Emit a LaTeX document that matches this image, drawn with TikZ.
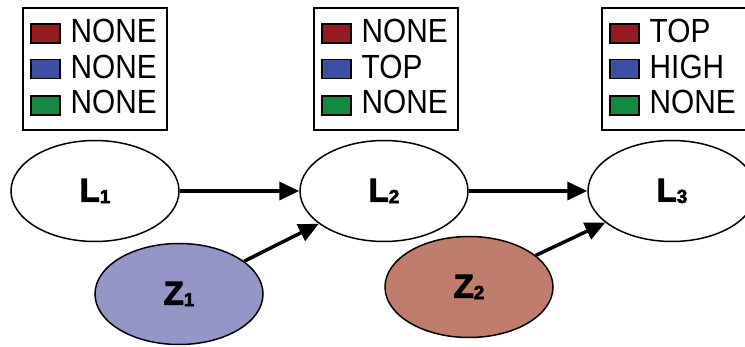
\documentclass[tikz,border=0pt]{standalone}
\usepackage{fontspec}
\usepackage{tikz}
\usetikzlibrary{positioning}
\usetikzlibrary{arrows.meta, shapes.geometric}

\newfontfamily\legendfont{Liberation Sans}[FakeStretch=0.89]
\newfontfamily\labelfont{Liberation Sans}[FakeBold=2.6]

\definecolor{swatchred}{RGB}{150,27,32}
\definecolor{swatchblue}{RGB}{61,79,160}
\definecolor{swatchgreen}{RGB}{22,137,67}
\definecolor{zonefill}{RGB}{149,150,200}
\definecolor{ztwofill}{RGB}{192,125,108}

% variable name with a small lowered index
\newcommand{\varlab}[2]{{\labelfont\bfseries\fontsize{33}{33}\selectfont #1{\fontsize{19}{19}\selectfont\raisebox{-1.5pt}{#2}}}}

\tikzset{
    legendbox/.style={draw, line width=2pt, anchor=north west,
        minimum width=144pt, minimum height=122pt, inner sep=0pt},
    swatch/.style={draw, line width=1.6pt, minimum width=29pt,
        minimum height=19pt, inner sep=0pt},
    legendtext/.style={anchor=base west, inner sep=0pt,
        font=\legendfont\fontsize{33.5}{33.5}\selectfont},
    var/.style={ellipse, draw, line width=1.5pt, minimum width=168pt,
        minimum height=101pt, inner sep=0pt},
    arr/.style={line width=3.5pt, -{Triangle[length=20pt, width=18pt]}}
}

\begin{document}
\begin{tikzpicture}[x=1pt, y=-1pt]
    \useasboundingbox (0,0) rectangle (745,347);

    % the three legend boxes above the chain
    \foreach \n/\x/\a/\b/\c in {1/22/NONE/NONE/NONE, 2/313/NONE/TOP/NONE, 3/601/TOP/HIGH/NONE} {
        \node[legendbox] (box\n) at (\x, 7) {};

        % coloured swatches
        \node[swatch, fill=swatchred]   (red\n)   at (\x+23.5, 33.5) {};
        \node[swatch, fill=swatchblue]  (blue\n)  at (\x+23.5, 69)   {};
        \node[swatch, fill=swatchgreen] (green\n) at (\x+23.5, 105.5) {};

        % states next to them
        \node[legendtext] (reds\n)   at (\x+48.5, 43)  {\a};
        \node[legendtext] (blues\n)  at (\x+48.5, 79)  {\b};
        \node[legendtext] (greens\n) at (\x+48.5, 114) {\c};
    }

    % the chain L1 -> L2 -> L3
    \node[var] (l1) at (95, 191)  {\varlab{L}{1}};
    \node[var] (l2) at (384, 191) {\varlab{L}{2}};
    \node[var] (l3) at (672, 191) {\varlab{L}{3}};

    % the inputs below it
    \node[var, fill=zonefill] (z1) at (179, 294) {\varlab{Z}{1}};
    \node[var, fill=ztwofill] (z2) at (469, 287) {\varlab{Z}{2}};

    % draw the arrows
    \draw[arr] (l1) -- (l2);
    \draw[arr] (l2) -- (l3);
    \draw[arr] (z1) -- (l2);
    \draw[arr] (z2) -- (l3);

\end{tikzpicture}
\end{document}
